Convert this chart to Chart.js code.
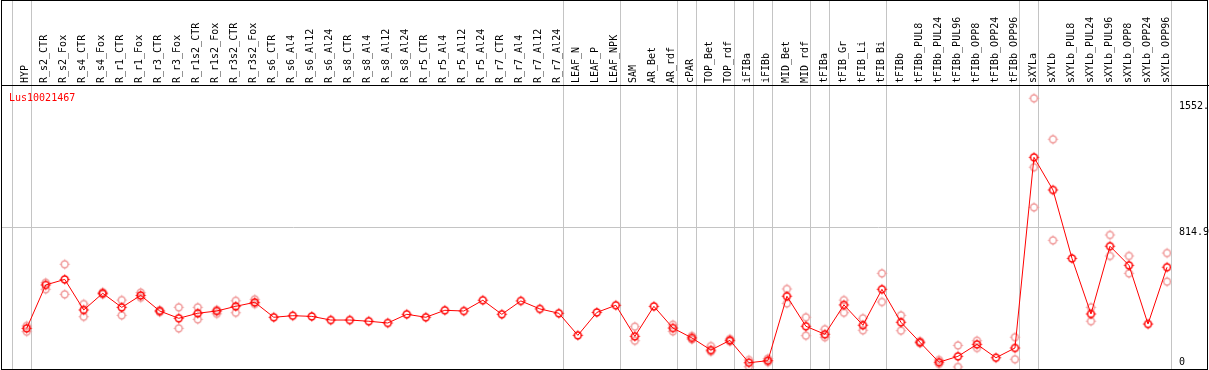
<!DOCTYPE html>
<html><head><meta charset="utf-8">
<script src="https://cdn.jsdelivr.net/npm/chart.js@4.4.0/dist/chart.umd.min.js"></script>
<style>html,body{margin:0;padding:0;background:#fff;overflow:hidden}canvas{display:block}</style>
</head><body>
<canvas id="c" width="1209" height="370"></canvas>
<script>
const categories = ['HYP','R_s2_CTR','R_s2_Fox','R_s4_CTR','R_s4_Fox','R_r1_CTR','R_r1_Fox','R_r3_CTR','R_r3_Fox','R_r1s2_CTR','R_r1s2_Fox','R_r3s2_CTR','R_r3s2_Fox','R_s6_CTR','R_s6_Al4','R_s6_Al12','R_s6_Al24','R_s8_CTR','R_s8_Al4','R_s8_Al12','R_s8_Al24','R_r5_CTR','R_r5_Al4','R_r5_Al12','R_r5_Al24','R_r7_CTR','R_r7_Al4','R_r7_Al12','R_r7_Al24','LEAF_N','LEAF_P','LEAF_NPK','SAM','AR_Bet','AR_rdf','cPAR','TOP_Bet','TOP_rdf','iFIBa','iFIBb','MID_Bet','MID_rdf','tFIBa','tFIB_Gr','tFIB_Li','tFIB_Bi','tFIBb','tFIBb_PUL8','tFIBb_PUL24','tFIBb_PUL96','tFIBb_OPP8','tFIBb_OPP24','tFIBb_OPP96','sXYLa','sXYLb','sXYLb_PUL8','sXYLb_PUL24','sXYLb_PUL96','sXYLb_OPP8','sXYLb_OPP24','sXYLb_OPP96'];
const meanValues = [234,484,516,340,436,355,424,334,292,321,334,361,384,298,307,303,282,282,275,265,315,298,338,334,396,315,392,346,321,194,326,367,188,361,236,179,109,165,36,48,419,246,200,369,252,459,269,154,39,73,142,65,121,1219,1031,637,317,707,597,259,586];
const repA = [248,497,603,374,442,397,440,338,355,355,340,393,401,null,null,null,null,null,null,null,null,null,null,null,null,null,null,null,null,null,null,null,244,null,255,190,132,173,52,60,461,298,229,397,292,551,309,160,52,136,163,null,183,1559,1323,null,355,772,651,null,668];
const repB = [215,459,430,301,430,309,411,328,234,286,318,324,374,null,null,null,null,null,null,null,null,null,null,null,null,null,null,null,null,null,null,null,163,null,217,170,100,158,13,40,378,192,183,324,223,386,221,148,29,12,121,null,56,1162,741,null,275,651,551,null,503];
const repC = [null,null,null,null,null,null,null,null,null,null,null,null,null,null,null,null,null,null,null,null,null,null,null,null,null,null,null,null,null,null,null,null,null,null,null,null,null,null,null,null,null,null,null,null,null,null,null,null,null,null,null,null,null,931,null,null,null,null,null,null,null];
const groupEnds = [-1,0,28,31,34,35,37,38,39,41,42,45,52,53,60];
const yTickValues = [0, 814.9, 1552];
const yTickLabels = ['0', '814.9', '1552.'];
const yMax = 1629.8;
const geneName = 'Lus10021467';

const FONT = '10px "DejaVu Sans Mono", monospace';

function makeMarker(color) {
  const c = document.createElement('canvas');
  c.width = 13; c.height = 13;
  const g = c.getContext('2d');
  g.strokeStyle = color;
  g.lineWidth = 1.5;
  g.beginPath(); g.arc(6.5, 6.5, 3.4, 0, Math.PI * 2); g.stroke();
  g.lineWidth = 1;
  g.beginPath();
  g.moveTo(6.5, 1.5); g.lineTo(6.5, 3);
  g.moveTo(6.5, 10); g.lineTo(6.5, 11.5);
  g.moveTo(1.5, 6.5); g.lineTo(3, 6.5);
  g.moveTo(10, 6.5); g.lineTo(11.5, 6.5);
  g.stroke();
  return c;
}
const meanMarker = makeMarker('#ff0000');
const repMarker = makeMarker('#f09a9a');

const repPoints = [];
[repA, repB, repC].forEach(arr => arr.forEach((v, i) => { if (v !== null) repPoints.push({x: i, y: v}); }));

const decor = {
  id: 'decor',
  beforeDatasetsDraw(chart) {
    const ctx = chart.ctx, xs = chart.scales.x;
    ctx.save();
    ctx.strokeStyle = '#c4c4c4';
    ctx.lineWidth = 1;
    groupEnds.forEach(i => {
      const px = Math.round(xs.getPixelForValue(i) + 4) + 0.5;
      ctx.beginPath(); ctx.moveTo(px, 0); ctx.lineTo(px, chart.chartArea.bottom); ctx.stroke();
    });
    ctx.restore();
  },
  afterDraw(chart) {
    const ctx = chart.ctx, ys = chart.scales.y, a = chart.chartArea;
    ctx.save();
    ctx.font = FONT;
    ctx.fillStyle = '#000';
    ctx.textAlign = 'left';
    ctx.textBaseline = 'middle';
    const offs = [-7, 5, 7];
    yTickValues.forEach((v, k) => {
      ctx.fillText(yTickLabels[k], a.right + 8, ys.getPixelForValue(v) + offs[k]);
    });
    ctx.fillStyle = '#ff0000';
    ctx.textBaseline = 'alphabetic';
    ctx.fillText(geneName, 9, a.top + 15);
    ctx.strokeStyle = '#000';
    ctx.lineWidth = 1;
    ctx.beginPath();
    ctx.moveTo(1, a.top - 0.5); ctx.lineTo(chart.width, a.top - 0.5);
    ctx.stroke();
    ctx.strokeRect(1.5, 0.5, chart.width - 3, a.bottom);
    ctx.restore();
  }
};

new Chart(document.getElementById('c'), {
  type: 'line',
  data: {
    datasets: [
      {
        label: geneName,
        data: meanValues.map((v, i) => ({x: i, y: v})),
        borderColor: '#ff0000',
        borderWidth: 1,
        pointStyle: meanMarker,
        pointRadius: 4,
        tension: 0,
        order: 0
      },
      {
        label: 'replicates',
        data: repPoints,
        showLine: false,
        pointStyle: repMarker,
        pointRadius: 4,
        order: 1
      }
    ]
  },
  options: {
    responsive: false,
    animation: false,
    devicePixelRatio: 1,
    layout: {autoPadding: false, padding: {left: 1, right: 0, top: 0, bottom: 1}},
    plugins: {legend: {display: false}, tooltip: {enabled: false}},
    scales: {
      x: {
        type: 'linear',
        position: 'top',
        min: -1.353,
        max: 60.21,
        grid: {display: false, drawTicks: false, tickLength: 0},
        border: {display: false},
        afterBuildTicks: s => { s.ticks = categories.map((_, i) => ({value: i})); },
        afterFit: s => { s.height = 86; s.paddingLeft = 0; s.paddingRight = 0; },
        ticks: {
          autoSkip: false,
          minRotation: 90,
          maxRotation: 90,
          padding: 3,
          color: '#000',
          font: {family: '"DejaVu Sans Mono", monospace', size: 10, lineHeight: '1px'},
          callback: v => categories[Math.round(v)]
        }
      },
      y: {
        position: 'right',
        min: 0,
        max: yMax,
        afterBuildTicks: s => { s.ticks = yTickValues.map(v => ({value: v})); },
        afterFit: s => { s.width = 38; s.paddingTop = 0; s.paddingBottom = 0; },
        grid: {
          drawTicks: false,
          lineWidth: 1,
          color: c => (c.tick && c.tick.value === 814.9) ? '#c4c4c4' : 'rgba(0,0,0,0)'
        },
        border: {display: false},
        ticks: {display: false}
      }
    }
  },
  plugins: [decor]
});
</script>
</body></html>
